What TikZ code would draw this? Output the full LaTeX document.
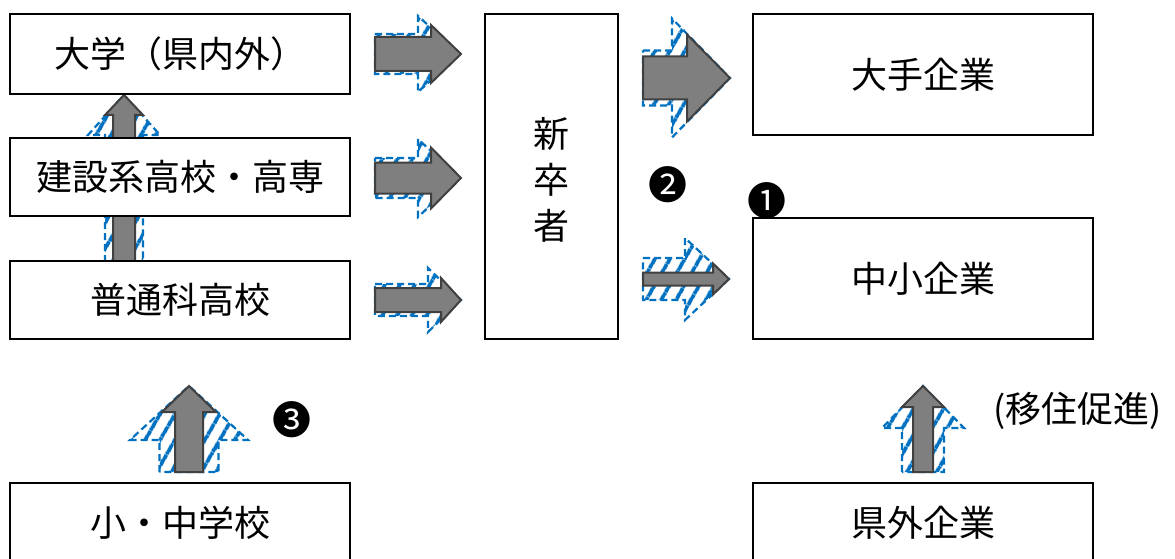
\documentclass[tikz,border=0pt]{standalone}
\usepackage{fontspec}
\setmainfont{Noto Sans CJK JP}
\usetikzlibrary{patterns.meta}
\definecolor{hatchblue}{HTML}{0070C0}
\definecolor{arrgray}{HTML}{7F7F7F}
\definecolor{arredge}{HTML}{404040}
\tikzset{
  box/.style={draw=black, line width=2pt, fill=white, inner sep=0pt, font=\fontsize{36}{40}\selectfont},
  bluearr/.style={draw=hatchblue, line width=2.2pt, dash pattern=on 7pt off 4pt,
     pattern={Lines[angle=60,distance=13pt,line width=4pt]}, pattern color=hatchblue},
  grayarr/.style={draw=arredge, line width=2pt, fill=arrgray, line join=miter},
  lbl/.style={inner sep=0pt, font=\fontsize{36}{40}\selectfont},
  num/.style={inner sep=0pt, font=\fontsize{39}{40}\selectfont},
}
% right arrow: x0, yc, xh, x1, sw, hw, style
\newcommand{\rarr}[7]{%
  \path[#7] (#1,#2-#5) -- (#3,#2-#5) -- (#3,#2-#6) -- (#4,#2) -- (#3,#2+#6) -- (#3,#2+#5) -- (#1,#2+#5) -- cycle;}
% up arrow: xc, y0, yh, y1, sw, hw, style
\newcommand{\uarr}[7]{%
  \path[#7] (#1-#5,#2) -- (#1-#5,#3) -- (#1-#6,#3) -- (#1,#4) -- (#1+#6,#3) -- (#1+#5,#3) -- (#1+#5,#2) -- cycle;}
\begin{document}
\begin{tikzpicture}[x=1pt,y=-1pt]
\useasboundingbox (0,0) rectangle (1175,559);
\clip (0,0) rectangle (1175,559);
% up arrow between high schools and university (behind boxes)
\uarr{124}{262}{135}{95}{19}{36}{bluearr}
\uarr{124}{262}{115}{95}{11}{19}{grayarr}
% boxes
\node[box, minimum width=340pt, minimum height=80pt] (daigaku) at (180,54) {大学（県内外）};
\node[box, minimum width=340pt, minimum height=78pt] (kensetsu) at (180,177) {建設系高校・高専};
\node[box, minimum width=340pt, minimum height=78pt] (futsuka) at (180,300) {普通科高校};
\node[box, minimum width=133pt, minimum height=325pt] (shinsotsu) at (551.5,176.5) {};
\node[lbl] (s1) at (551.5,134) {新};
\node[lbl] (s2) at (551.5,180) {卒};
\node[lbl] (s3) at (551.5,226) {者};
\node[box, minimum width=340pt, minimum height=121pt] (ote) at (923,74.5) {大手企業};
\node[box, minimum width=340pt, minimum height=121pt] (chusho) at (923,278.5) {中小企業};
\node[box, minimum width=340pt, minimum height=80pt] (shochu) at (180,523) {小・中学校};
\node[box, minimum width=340pt, minimum height=80pt] (kengai) at (923,523) {県外企業};
% right arrows
\rarr{375}{54}{418}{460}{20}{38}{bluearr}
\rarr{375}{54}{431}{461}{17}{29}{grayarr}
\rarr{375}{178}{418}{460}{20}{39}{bluearr}
\rarr{375}{178}{431}{461}{15.5}{30.5}{grayarr}
\rarr{375}{300}{428}{461}{16}{32}{bluearr}
\rarr{375}{300}{441}{461}{12}{22}{grayarr}
\rarr{643}{78}{672}{730}{27.5}{59.5}{bluearr}
\rarr{643}{78}{687}{730}{21.5}{43.5}{grayarr}
\rarr{643}{279}{685}{729}{21}{41}{bluearr}
\rarr{643}{279}{713}{729}{6.5}{15.5}{grayarr}
% up arrows
\uarr{189}{472}{440}{386}{29.5}{59}{bluearr}
\uarr{189}{472}{412}{386}{14}{27}{grayarr}
\uarr{923}{472}{428}{386}{21}{41}{bluearr}
\uarr{923}{472}{407}{386}{10}{21}{grayarr}
% labels
\node[num] (n2) at (668,185) {❷};
\node[num] (n1) at (767,201) {❶};
\node[num] (n3) at (292,420) {❸};
\node[lbl, anchor=west] (iju) at (993,411) {(移住促進)};
\end{tikzpicture}
\end{document}
